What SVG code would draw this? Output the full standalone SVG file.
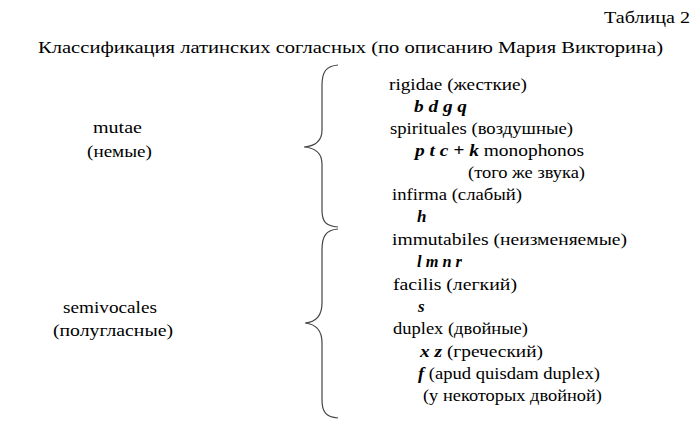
<svg xmlns="http://www.w3.org/2000/svg" width="700" height="444" viewBox="0 0 700 444">
<style>
text{font-family:"Times New Roman",Times,"Liberation Serif","DejaVu Serif",serif;font-size:17px;fill:#000}
.b{font-weight:bold;font-style:italic}
.brace{fill:none;stroke:#444;stroke-width:1.2}
</style>
<rect width="700" height="444" fill="#fff"/>
<g id="header">
<text x="604" y="23" textLength="86" lengthAdjust="spacingAndGlyphs">Таблица 2</text>
<text x="38" y="53" textLength="625" lengthAdjust="spacingAndGlyphs">Классификация латинских согласных (по описанию Мария Викторина)</text>
</g>
<g id="mutae">
<text x="93" y="133" textLength="49" lengthAdjust="spacingAndGlyphs">mutae</text>
<text x="87" y="157" textLength="65" lengthAdjust="spacingAndGlyphs">(немые)</text>
</g>
<g id="semivocales">
<text x="63" y="313" textLength="94" lengthAdjust="spacingAndGlyphs">semivocales</text>
<text x="53" y="336" textLength="120" lengthAdjust="spacingAndGlyphs">(полугласные)</text>
</g>
<g id="connectors">
<path class="brace" d="M338,65 C326,66 322,72 322,85 L322,130 C322,140 316,146 304,147 C316,148 322,154 322,164 L322,210 C322,222 326,226 338,227"/>
<path class="brace" d="M338,229 C326,230 322,236 322,250 L322,303 C322,315 316,322 305,323 C316,324 322,331 322,343 L322,400 C322,412 326,417 338,418"/>
</g>
<g id="mutae-list">
<text x="389" y="90" textLength="138" lengthAdjust="spacingAndGlyphs">rigidae (жесткие)</text>
<text class="b" x="414" y="112" textLength="53" lengthAdjust="spacingAndGlyphs">b d g q</text>
<text x="390" y="134" textLength="183" lengthAdjust="spacingAndGlyphs">spirituales (воздушные)</text>
<text x="415" y="156" textLength="169" lengthAdjust="spacingAndGlyphs"><tspan class="b">p t c + k</tspan> monophonos</text>
<text x="468" y="178" textLength="117" lengthAdjust="spacingAndGlyphs">(того же звука)</text>
<text x="392" y="200" textLength="130" lengthAdjust="spacingAndGlyphs">infirma (слабый)</text>
<text class="b" x="417" y="222">h</text>
</g>
<g id="semivocales-list">
<text x="392" y="245" textLength="235" lengthAdjust="spacingAndGlyphs">immutabiles (неизменяемые)</text>
<text class="b" x="417" y="267" textLength="45" lengthAdjust="spacingAndGlyphs">l m n r</text>
<text x="393" y="290" textLength="124" lengthAdjust="spacingAndGlyphs">facilis (легкий)</text>
<text class="b" x="418" y="312">s</text>
<text x="393" y="334" textLength="135" lengthAdjust="spacingAndGlyphs">duplex (двойные)</text>
<text x="420" y="357" textLength="123" lengthAdjust="spacingAndGlyphs"><tspan class="b">x z</tspan> (греческий)</text>
<text x="418" y="379" textLength="182" lengthAdjust="spacingAndGlyphs"><tspan class="b">f</tspan> (apud quisdam duplex)</text>
<text x="423" y="401" textLength="179" lengthAdjust="spacingAndGlyphs">(у некоторых двойной)</text>
</g>
</svg>
